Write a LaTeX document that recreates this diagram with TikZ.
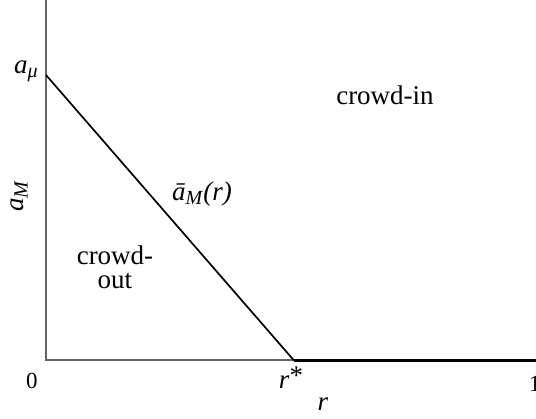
\documentclass[tikz,border=0pt]{standalone}
\usepackage{fontspec}
\setmainfont{Liberation Serif}
\begin{document}
\begin{tikzpicture}[x=1pt,y=-1pt,
  lbl/.style={inner sep=0pt, font=\fontsize{27}{30}\selectfont},
  axisgray/.style={draw=black!60, line width=2pt},
  axisblack/.style={draw=black, line width=2.4pt},
  curve/.style={draw=black, line width=1.7pt}]
\useasboundingbox (0,0) rectangle (536,419);
\coordinate (top) at (46,0);
\coordinate (origin) at (46,360.5);
\coordinate (amu) at (46,75);
\coordinate (rstar) at (294,360.5);
\coordinate (right) at (536,360.5);
\draw[axisgray] (top) -- (origin) -- (rstar);
\draw[axisblack] (rstar) -- (right);
\draw[curve] (amu) -- (rstar);
\node[lbl] (lamu) at (26,71) {\textit{a}\raisebox{-0.35ex}{\fontsize{20}{22}\selectfont\textit{μ}}};
\node[lbl, rotate=90] (laM) at (19,196) {\textit{a}\raisebox{-0.35ex}{\fontsize{20}{22}\selectfont\textit{M}}};
\node[lbl] (lin) at (385,95) {crowd-in};
\node[lbl, align=center, font=\fontsize{27}{24}\selectfont] (lout) at (115,267) {crowd-\\out};
\node[lbl] (lbar) at (202,194) {\textit{ā}\raisebox{-0.35ex}{\fontsize{20}{22}\selectfont\textit{M}}\textit{(r)}};
\node[lbl, font=\fontsize{23}{26}\selectfont] (l0) at (32,381) {0};
\node[lbl] (lrs) at (291,378) {\textit{r}\raisebox{0.3ex}{*}};
\node[lbl] (lr) at (323,404) {\textit{r}};
\node[lbl, anchor=west, font=\fontsize{23}{26}\selectfont] (l1) at (529,384) {1};
\end{tikzpicture}
\end{document}
